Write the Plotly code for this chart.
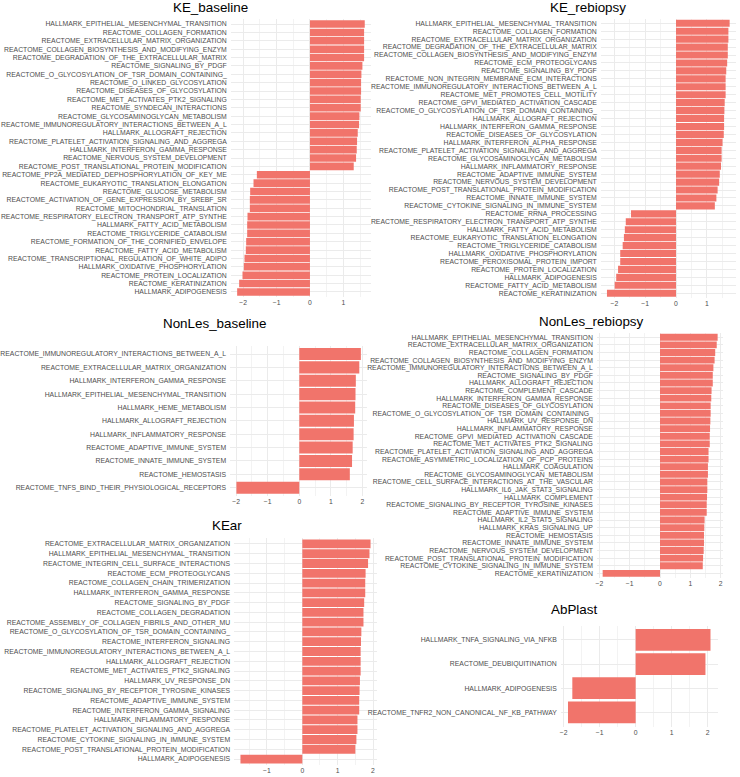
import plotly.graph_objects as go

W, H = 740, 777

# ---------------- data ----------------
ke_baseline_terms = [
    "HALLMARK_EPITHELIAL_MESENCHYMAL_TRANSITION",
    "REACTOME_COLLAGEN_FORMATION",
    "REACTOME_EXTRACELLULAR_MATRIX_ORGANIZATION",
    "REACTOME_COLLAGEN_BIOSYNTHESIS_AND_MODIFYING_ENZYM",
    "REACTOME_DEGRADATION_OF_THE_EXTRACELLULAR_MATRIX",
    "REACTOME_SIGNALING_BY_PDGF",
    "REACTOME_O_GLYCOSYLATION_OF_TSR_DOMAIN_CONTAINING_",
    "REACTOME_O_LINKED_GLYCOSYLATION",
    "REACTOME_DISEASES_OF_GLYCOSYLATION",
    "REACTOME_MET_ACTIVATES_PTK2_SIGNALING",
    "REACTOME_SYNDECAN_INTERACTIONS",
    "REACTOME_GLYCOSAMINOGLYCAN_METABOLISM",
    "REACTOME_IMMUNOREGULATORY_INTERACTIONS_BETWEEN_A_L",
    "HALLMARK_ALLOGRAFT_REJECTION",
    "REACTOME_PLATELET_ACTIVATION_SIGNALING_AND_AGGREGA",
    "HALLMARK_INTERFERON_GAMMA_RESPONSE",
    "REACTOME_NERVOUS_SYSTEM_DEVELOPMENT",
    "REACTOME_POST_TRANSLATIONAL_PROTEIN_MODIFICATION",
    "REACTOME_PP2A_MEDIATED_DEPHOSPHORYLATION_OF_KEY_ME",
    "REACTOME_EUKARYOTIC_TRANSLATION_ELONGATION",
    "REACTOME_GLUCOSE_METABOLISM",
    "REACTOME_ACTIVATION_OF_GENE_EXPRESSION_BY_SREBF_SR",
    "REACTOME_MITOCHONDRIAL_TRANSLATION",
    "REACTOME_RESPIRATORY_ELECTRON_TRANSPORT_ATP_SYNTHE",
    "HALLMARK_FATTY_ACID_METABOLISM",
    "REACTOME_TRIGLYCERIDE_CATABOLISM",
    "REACTOME_FORMATION_OF_THE_CORNIFIED_ENVELOPE",
    "REACTOME_FATTY_ACID_METABOLISM",
    "REACTOME_TRANSCRIPTIONAL_REGULATION_OF_WHITE_ADIPO",
    "HALLMARK_OXIDATIVE_PHOSPHORYLATION",
    "REACTOME_PROTEIN_LOCALIZATION",
    "REACTOME_KERATINIZATION",
    "HALLMARK_ADIPOGENESIS",
]
ke_baseline_nes = [
    1.64, 1.62, 1.62, 1.62, 1.62, 1.57, 1.54, 1.53, 1.53, 1.52, 1.52,
    1.48, 1.47, 1.43, 1.41, 1.40, 1.38, 1.31,
    -1.59, -1.69, -1.79, -1.80, -1.80, -1.87, -1.88, -1.88, -1.91,
    -1.92, -1.96, -1.98, -2.02, -2.12, -2.18,
]

ke_rebiopsy_terms = [
    "HALLMARK_EPITHELIAL_MESENCHYMAL_TRANSITION",
    "REACTOME_COLLAGEN_FORMATION",
    "REACTOME_EXTRACELLULAR_MATRIX_ORGANIZATION",
    "REACTOME_DEGRADATION_OF_THE_EXTRACELLULAR_MATRIX",
    "REACTOME_COLLAGEN_BIOSYNTHESIS_AND_MODIFYING_ENZYM",
    "REACTOME_ECM_PROTEOGLYCANS",
    "REACTOME_SIGNALING_BY_PDGF",
    "REACTOME_NON_INTEGRIN_MEMBRANE_ECM_INTERACTIONS",
    "REACTOME_IMMUNOREGULATORY_INTERACTIONS_BETWEEN_A_L",
    "REACTOME_MET_PROMOTES_CELL_MOTILITY",
    "REACTOME_GPVI_MEDIATED_ACTIVATION_CASCADE",
    "REACTOME_O_GLYCOSYLATION_OF_TSR_DOMAIN_CONTAINING_",
    "HALLMARK_ALLOGRAFT_REJECTION",
    "HALLMARK_INTERFERON_GAMMA_RESPONSE",
    "REACTOME_DISEASES_OF_GLYCOSYLATION",
    "HALLMARK_INTERFERON_ALPHA_RESPONSE",
    "REACTOME_PLATELET_ACTIVATION_SIGNALING_AND_AGGREGA",
    "REACTOME_GLYCOSAMINOGLYCAN_METABOLISM",
    "HALLMARK_INFLAMMATORY_RESPONSE",
    "REACTOME_ADAPTIVE_IMMUNE_SYSTEM",
    "REACTOME_NERVOUS_SYSTEM_DEVELOPMENT",
    "REACTOME_POST_TRANSLATIONAL_PROTEIN_MODIFICATION",
    "REACTOME_INNATE_IMMUNE_SYSTEM",
    "REACTOME_CYTOKINE_SIGNALING_IN_IMMUNE_SYSTEM",
    "REACTOME_RRNA_PROCESSING",
    "REACTOME_RESPIRATORY_ELECTRON_TRANSPORT_ATP_SYNTHE",
    "HALLMARK_FATTY_ACID_METABOLISM",
    "REACTOME_EUKARYOTIC_TRANSLATION_ELONGATION",
    "REACTOME_TRIGLYCERIDE_CATABOLISM",
    "HALLMARK_OXIDATIVE_PHOSPHORYLATION",
    "REACTOME_PEROXISOMAL_PROTEIN_IMPORT",
    "REACTOME_PROTEIN_LOCALIZATION",
    "HALLMARK_ADIPOGENESIS",
    "REACTOME_FATTY_ACID_METABOLISM",
    "REACTOME_KERATINIZATION",
]
ke_rebiopsy_nes = [
    1.74, 1.70, 1.70, 1.68, 1.68, 1.66, 1.63, 1.61, 1.61, 1.61, 1.58,
    1.57, 1.56, 1.56, 1.55, 1.51, 1.48, 1.48, 1.46, 1.42, 1.40, 1.35,
    1.31, 1.26,
    -1.46, -1.63, -1.66, -1.69, -1.73, -1.81, -1.81, -1.88, -1.94,
    -1.99, -2.24,
]

nonles_baseline_terms = [
    "REACTOME_IMMUNOREGULATORY_INTERACTIONS_BETWEEN_A_L",
    "REACTOME_EXTRACELLULAR_MATRIX_ORGANIZATION",
    "HALLMARK_INTERFERON_GAMMA_RESPONSE",
    "HALLMARK_EPITHELIAL_MESENCHYMAL_TRANSITION",
    "HALLMARK_HEME_METABOLISM",
    "HALLMARK_ALLOGRAFT_REJECTION",
    "HALLMARK_INFLAMMATORY_RESPONSE",
    "REACTOME_ADAPTIVE_IMMUNE_SYSTEM",
    "REACTOME_INNATE_IMMUNE_SYSTEM",
    "REACTOME_HEMOSTASIS",
    "REACTOME_TNFS_BIND_THEIR_PHYSIOLOGICAL_RECEPTORS",
]
nonles_baseline_nes = [1.95, 1.90, 1.79, 1.78, 1.77, 1.73, 1.72, 1.69, 1.67, 1.60, -1.99]

nonles_rebiopsy_terms = [
    "HALLMARK_EPITHELIAL_MESENCHYMAL_TRANSITION",
    "REACTOME_EXTRACELLULAR_MATRIX_ORGANIZATION",
    "REACTOME_COLLAGEN_FORMATION",
    "REACTOME_COLLAGEN_BIOSYNTHESIS_AND_MODIFYING_ENZYM",
    "REACTOME_IMMUNOREGULATORY_INTERACTIONS_BETWEEN_A_L",
    "REACTOME_SIGNALING_BY_PDGF",
    "HALLMARK_ALLOGRAFT_REJECTION",
    "REACTOME_COMPLEMENT_CASCADE",
    "HALLMARK_INTERFERON_GAMMA_RESPONSE",
    "REACTOME_DISEASES_OF_GLYCOSYLATION",
    "REACTOME_O_GLYCOSYLATION_OF_TSR_DOMAIN_CONTAINING_",
    "HALLMARK_UV_RESPONSE_DN",
    "HALLMARK_INFLAMMATORY_RESPONSE",
    "REACTOME_GPVI_MEDIATED_ACTIVATION_CASCADE",
    "REACTOME_MET_ACTIVATES_PTK2_SIGNALING",
    "REACTOME_PLATELET_ACTIVATION_SIGNALING_AND_AGGREGA",
    "REACTOME_ASYMMETRIC_LOCALIZATION_OF_PCP_PROTEINS",
    "HALLMARK_COAGULATION",
    "REACTOME_GLYCOSAMINOGLYCAN_METABOLISM",
    "REACTOME_CELL_SURFACE_INTERACTIONS_AT_THE_VASCULAR",
    "HALLMARK_IL6_JAK_STAT3_SIGNALING",
    "HALLMARK_COMPLEMENT",
    "REACTOME_SIGNALING_BY_RECEPTOR_TYROSINE_KINASES",
    "REACTOME_ADAPTIVE_IMMUNE_SYSTEM",
    "HALLMARK_IL2_STAT5_SIGNALING",
    "HALLMARK_KRAS_SIGNALING_UP",
    "REACTOME_HEMOSTASIS",
    "REACTOME_INNATE_IMMUNE_SYSTEM",
    "REACTOME_NERVOUS_SYSTEM_DEVELOPMENT",
    "REACTOME_POST_TRANSLATIONAL_PROTEIN_MODIFICATION",
    "REACTOME_CYTOKINE_SIGNALING_IN_IMMUNE_SYSTEM",
    "REACTOME_KERATINIZATION",
]
nonles_rebiopsy_nes = [
    1.90, 1.87, 1.82, 1.80, 1.76, 1.74, 1.74, 1.70, 1.69, 1.67, 1.67,
    1.66, 1.65, 1.64, 1.64, 1.60, 1.60, 1.58, 1.58, 1.56, 1.56, 1.55,
    1.54, 1.54, 1.47, 1.46, 1.45, 1.45, 1.44, 1.42, 1.41, -1.89,
]

kear_terms = [
    "REACTOME_EXTRACELLULAR_MATRIX_ORGANIZATION",
    "HALLMARK_EPITHELIAL_MESENCHYMAL_TRANSITION",
    "REACTOME_INTEGRIN_CELL_SURFACE_INTERACTIONS",
    "REACTOME_ECM_PROTEOGLYCANS",
    "REACTOME_COLLAGEN_CHAIN_TRIMERIZATION",
    "HALLMARK_INTERFERON_GAMMA_RESPONSE",
    "REACTOME_SIGNALING_BY_PDGF",
    "REACTOME_COLLAGEN_DEGRADATION",
    "REACTOME_ASSEMBLY_OF_COLLAGEN_FIBRILS_AND_OTHER_MU",
    "REACTOME_O_GLYCOSYLATION_OF_TSR_DOMAIN_CONTAINING_",
    "REACTOME_INTERFERON_SIGNALING",
    "REACTOME_IMMUNOREGULATORY_INTERACTIONS_BETWEEN_A_L",
    "HALLMARK_ALLOGRAFT_REJECTION",
    "REACTOME_MET_ACTIVATES_PTK2_SIGNALING",
    "HALLMARK_UV_RESPONSE_DN",
    "REACTOME_SIGNALING_BY_RECEPTOR_TYROSINE_KINASES",
    "REACTOME_ADAPTIVE_IMMUNE_SYSTEM",
    "REACTOME_INTERFERON_GAMMA_SIGNALING",
    "HALLMARK_INFLAMMATORY_RESPONSE",
    "REACTOME_PLATELET_ACTIVATION_SIGNALING_AND_AGGREGA",
    "REACTOME_CYTOKINE_SIGNALING_IN_IMMUNE_SYSTEM",
    "REACTOME_POST_TRANSLATIONAL_PROTEIN_MODIFICATION",
    "HALLMARK_ADIPOGENESIS",
]
kear_nes = [
    1.93, 1.90, 1.86, 1.79, 1.78, 1.78, 1.75, 1.73, 1.73, 1.67, 1.66,
    1.65, 1.65, 1.65, 1.63, 1.62, 1.61, 1.61, 1.56, 1.56, 1.53, 1.50,
    -1.75,
]

abplast_terms = [
    "HALLMARK_TNFA_SIGNALING_VIA_NFKB",
    "REACTOME_DEUBIQUITINATION",
    "HALLMARK_ADIPOGENESIS",
    "REACTOME_TNFR2_NON_CANONICAL_NF_KB_PATHWAY",
]
abplast_nes = [2.08, 1.94, -1.76, -1.88]

# ---------------- layout of panels (pixel boxes) ----------------
panels = [
    ("KE_baseline", ke_baseline_terms, ke_baseline_nes,
     (230.8, 371.1), (19.0, 297.0), (-2.37, 1.83), (210.8, 7.0)),
    ("KE_rebiopsy", ke_rebiopsy_terms, ke_rebiopsy_nes,
     (600.8, 735.8), (18.5, 298.0), (-2.44, 1.94), (588.0, 7.0)),
    ("NonLes_baseline", nonles_baseline_terms, nonles_baseline_nes,
     (230.1, 367.2), (346.0, 495.7), (-2.19, 2.15), (214.0, 323.0)),
    ("NonLes_rebiopsy", nonles_rebiopsy_terms, nonles_rebiopsy_nes,
     (596.9, 723.4), (332.7, 577.9), (-2.08, 2.09), (591.3, 321.0)),
    ("KEar", kear_terms, kear_nes,
     (234.1, 376.9), (538.1, 764.9), (-1.93, 2.11), (226.5, 525.0)),
    ("AbPlast", abplast_terms, abplast_nes,
     (560.8, 717.7), (625.5, 726.8), (-2.08, 2.28), (573.7, 609.5)),
]

BAR = "#F1746B"
GRID = "#EBEBEB"
MINOR = "#F3F3F3"
TXT = "#4D4D4D"
FONT = "Liberation Sans, Arial, Helvetica, sans-serif"

fig = go.Figure()
annotations = []
layout_axes = {}

for i, (title, terms, vals, xpx, ypx, xr, tpos) in enumerate(panels, start=1):
    xa = "x" if i == 1 else f"x{i}"
    ya = "y" if i == 1 else f"y{i}"
    fig.add_trace(go.Bar(
        x=vals, y=terms, orientation="h", xaxis=xa, yaxis=ya,
        marker=dict(color=BAR, line=dict(width=0)), width=0.9,
        showlegend=False, hoverinfo="x+y",
    ))
    n = len(terms)
    xkey = "xaxis" if i == 1 else f"xaxis{i}"
    ykey = "yaxis" if i == 1 else f"yaxis{i}"
    layout_axes[xkey] = dict(
        domain=[xpx[0] / W, xpx[1] / W], anchor=ya, range=list(xr),
        tickmode="linear", tick0=0, dtick=1, showgrid=True, gridcolor=GRID,
        gridwidth=1, zeroline=False, showline=False, ticks="",
        tickfont=dict(size=6.8, color=TXT, family=FONT),
        minor=dict(dtick=0.5, tick0=0, showgrid=True, gridcolor=MINOR, gridwidth=0.6),
        automargin=False, fixedrange=True,
    )
    layout_axes[ykey] = dict(
        domain=[1 - ypx[1] / H, 1 - ypx[0] / H], anchor=xa,
        type="category", categoryorder="array", categoryarray=terms,
        tickmode="array", tickvals=terms, ticktext=terms,
        range=[n - 1 + 0.6, -0.6], showgrid=True, gridcolor=GRID, gridwidth=1,
        zeroline=False, showline=False, ticks="", ticklabelstandoff=3,
        tickfont=dict(size=6.85, color=TXT, family=FONT),
        automargin=False, fixedrange=True,
    )
    annotations.append(dict(
        text=title, x=tpos[0] / W, y=1 - tpos[1] / H, xref="paper", yref="paper",
        xanchor="center", yanchor="middle", showarrow=False,
        font=dict(size=13.4, color="#000000", family=FONT),
    ))

fig.update_layout(
    template="none", width=W, height=H, autosize=False,
    margin=dict(l=0, r=0, t=0, b=0, pad=0),
    paper_bgcolor="white", plot_bgcolor="rgba(0,0,0,0)",
    bargap=0.1, annotations=annotations, showlegend=False,
    font=dict(family=FONT, color=TXT),
    **layout_axes,
)

fig.write_html(
    "out.html",
    config={"displayModeBar": False},
    post_script="document.body.style.margin='0';document.body.style.overflow='hidden';",
)
